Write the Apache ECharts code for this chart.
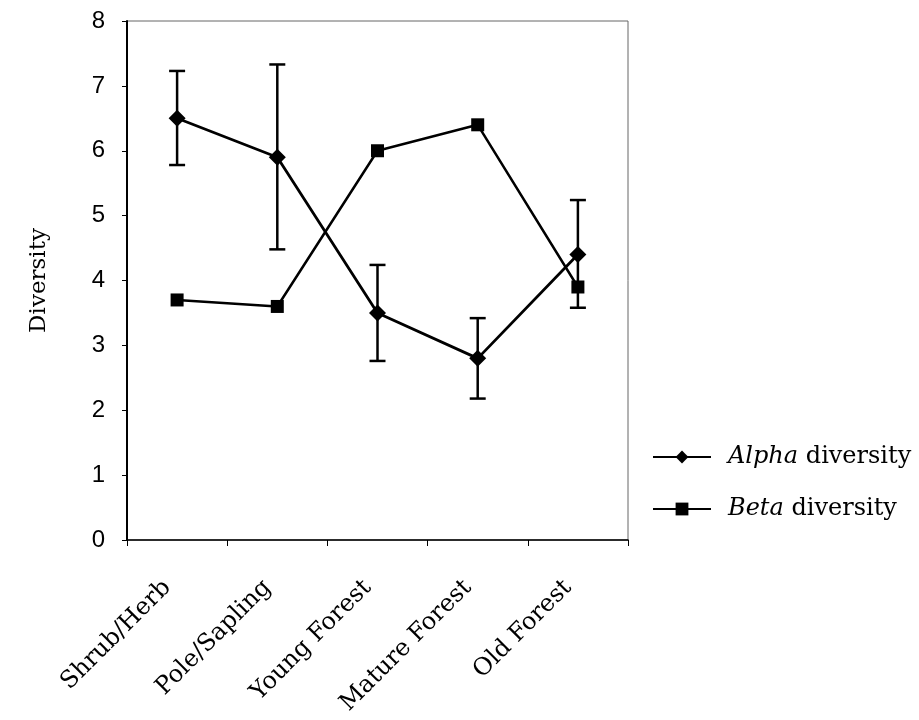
<!DOCTYPE html>
<html>
<head>
  <meta charset="utf-8" />
  <title>Diversity chart</title>
  <style>
    html, body { margin: 0; padding: 0; background: #fff; }
    #chartBox { width: 919px; height: 720px; }
  </style>
</head>
<body>
  <div id="chartBox"></div>
  <script src="https://cdn.jsdelivr.net/npm/echarts@6/dist/echarts.min.js"></script>
  <script>
    var categories = ['Shrub/Herb', 'Pole/Sapling', 'Young Forest', 'Mature Forest', 'Old Forest'];
    var alphaValues = [6.5, 5.9, 3.5, 2.8, 4.4];
    var alphaLow = [5.78, 4.48, 2.76, 2.18, 3.58];
    var alphaHigh = [7.23, 7.33, 4.24, 3.42, 5.24];
    var betaValues = [3.7, 3.6, 6.0, 6.4, 3.9];
    var yTicks = [0, 1, 2, 3, 4, 5, 6, 7, 8];

    var serif = '"DejaVu Serif", "Liberation Serif", serif';
    var sans = '"Liberation Sans", Arial, sans-serif';

    // error bar rows: [category index, low, high]
    var errData = [];
    for (var i = 0; i < categories.length; i++) {
      errData.push([i, alphaLow[i], alphaHigh[i]]);
    }

    function renderErrorBar(params, api) {
      var lo = api.coord([api.value(0), api.value(1)]);
      var hi = api.coord([api.value(0), api.value(2)]);
      var half = 8;
      var st = { stroke: '#000', lineWidth: 2.5 };
      return {
        type: 'group',
        children: [
          { type: 'line', shape: { x1: hi[0], y1: hi[1], x2: lo[0], y2: lo[1] }, style: st },
          { type: 'line', shape: { x1: hi[0] - half, y1: hi[1], x2: hi[0] + half, y2: hi[1] }, style: st },
          { type: 'line', shape: { x1: lo[0] - half, y1: lo[1], x2: lo[0] + half, y2: lo[1] }, style: st }
        ]
      };
    }

    var myChart = echarts.init(document.getElementById('chartBox'));
    var option = {
      backgroundColor: '#fff',
      animation: false,
      grid: {
        left: 127, right: 291, top: 21, bottom: 180,
        show: true, borderColor: '#666', borderWidth: 1
      },
      legend: {
        orient: 'vertical',
        left: 647,
        top: 440,
        itemWidth: 58,
        itemHeight: 16,
        itemGap: 28,
        data: ['Alpha', 'Beta'],
        formatter: function (name) {
          return '{i|' + name + '} diversity';
        },
        textStyle: {
          fontFamily: serif,
          fontSize: 24,
          color: '#000',
          rich: {
            i: { fontFamily: serif, fontSize: 24, fontStyle: 'italic', color: '#000', padding: [0, 0, 0, 12] }
          }
        }
      },
      xAxis: {
        type: 'category',
        data: categories,
        boundaryGap: true,
        axisLine: { lineStyle: { color: '#000', width: 1.5 } },
        axisTick: { show: true, length: 6, lineStyle: { color: '#000' } },
        axisLabel: {
          rotate: 45,
          margin: 34,
          padding: [0, 14, 0, 0],
          color: '#000',
          fontFamily: serif,
          fontSize: 24
        }
      },
      yAxis: {
        type: 'value',
        min: yTicks[0],
        max: yTicks[yTicks.length - 1],
        interval: 1,
        name: 'Diversity',
        nameLocation: 'middle',
        nameGap: 76,
        nameTextStyle: { fontFamily: serif, fontSize: 23, color: '#000' },
        splitLine: { show: false },
        axisLine: { show: true, lineStyle: { color: '#000', width: 2 } },
        axisTick: { show: true, length: 5, lineStyle: { color: '#000' } },
        axisLabel: { color: '#000', fontFamily: sans, fontSize: 24, margin: 22 }
      },
      series: [
        {
          name: 'Alpha',
          type: 'line',
          data: alphaValues,
          symbol: 'diamond',
          symbolSize: 17,
          itemStyle: { color: '#000' },
          lineStyle: { color: '#000', width: 2.8 },
          z: 3
        },
        {
          name: 'Beta',
          type: 'line',
          data: betaValues,
          symbol: 'rect',
          symbolSize: 13,
          itemStyle: { color: '#000' },
          lineStyle: { color: '#000', width: 2.5 },
          z: 3
        },
        {
          name: 'errors',
          type: 'custom',
          renderItem: renderErrorBar,
          data: errData,
          encode: { x: 0, y: [1, 2] },
          z: 2
        }
      ]
    };
    myChart.setOption(option);
  </script>
</body>
</html>
